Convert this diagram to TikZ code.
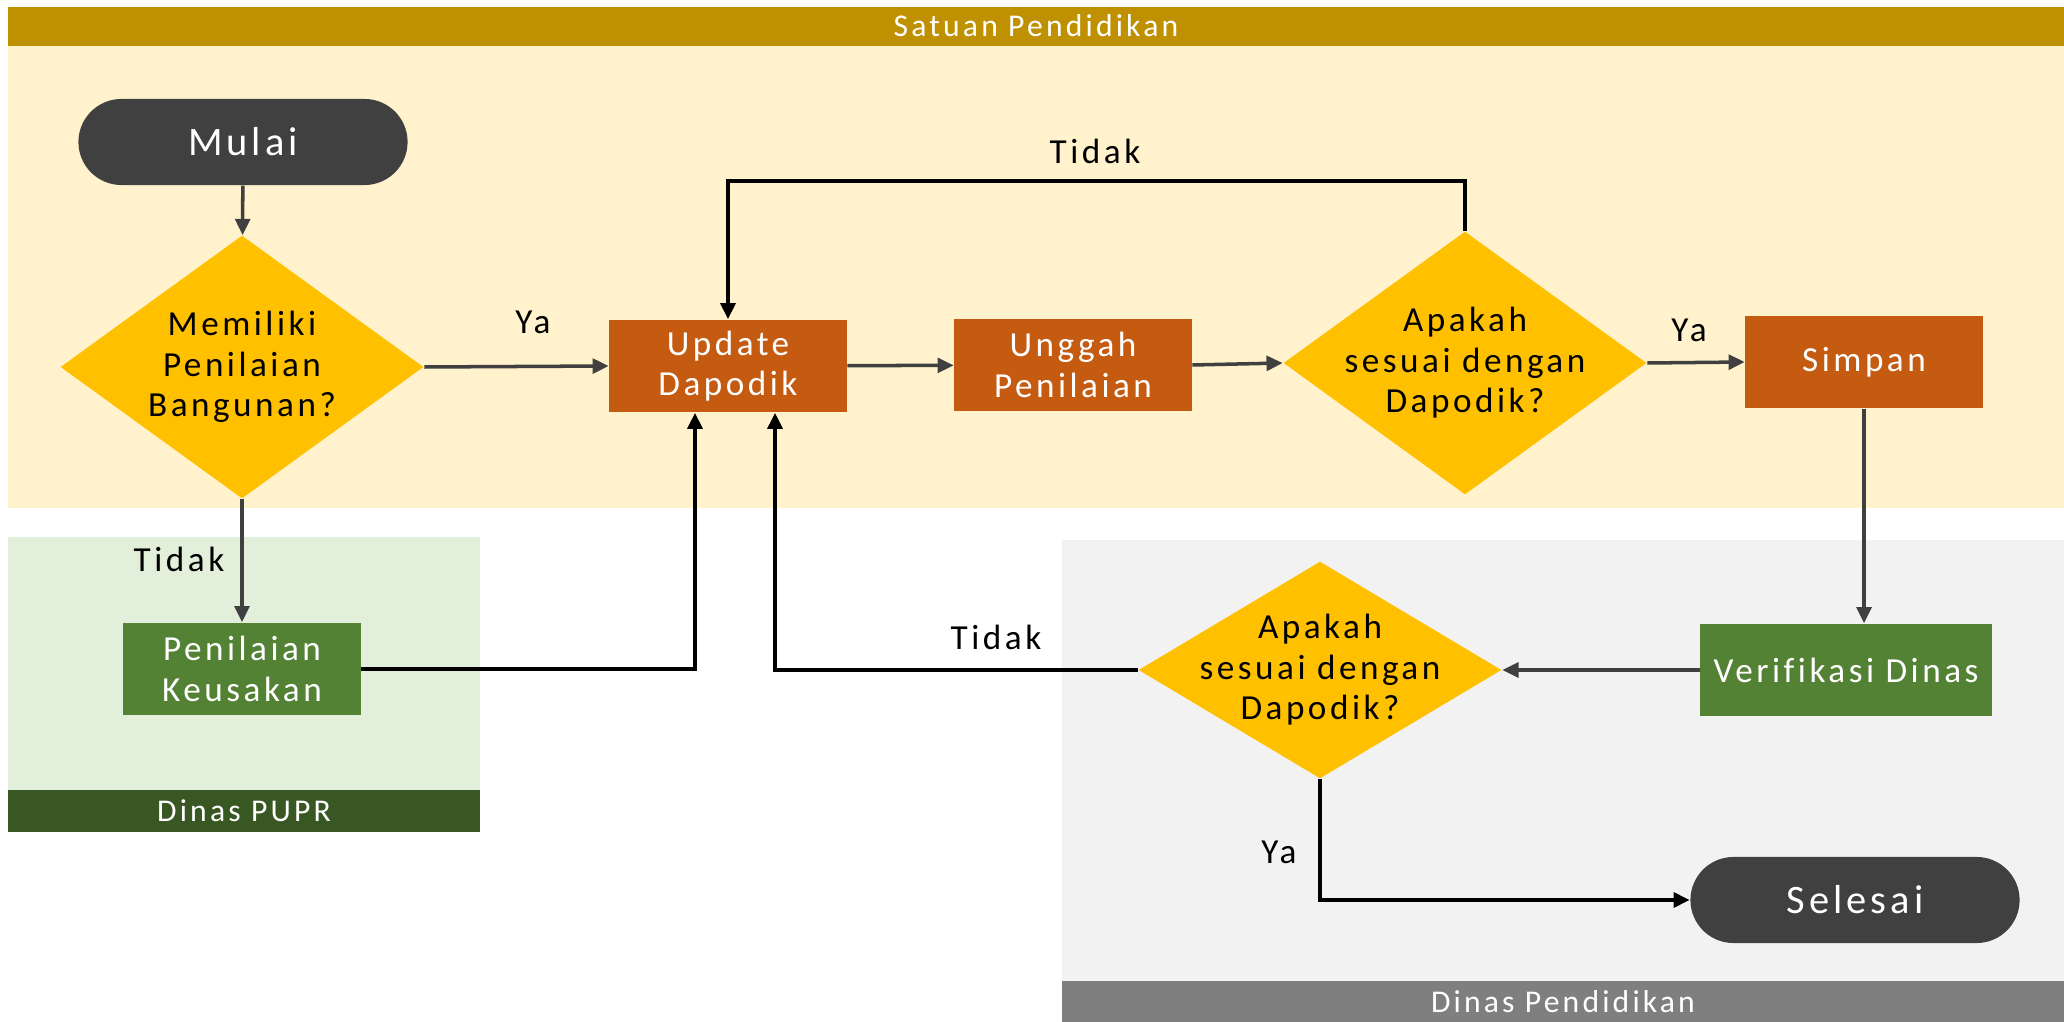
\documentclass[tikz,border=0pt]{standalone}
\usepackage{fontspec}
\setmainfont{Carlito}[LetterSpace=10,Ligatures=NoCommon]
\usetikzlibrary{shapes.geometric,arrows.meta}

\definecolor{hdrgold}{HTML}{BF9000}
\definecolor{lanecream}{HTML}{FFF2CC}
\definecolor{lanegreen}{HTML}{E2EFDA}
\definecolor{hdrgreen}{HTML}{385723}
\definecolor{lanegrey}{HTML}{F2F2F2}
\definecolor{hdrgrey}{HTML}{7F7F7F}
\definecolor{termgrey}{HTML}{404040}
\definecolor{decgold}{HTML}{FFC000}
\definecolor{procorange}{HTML}{C55A11}
\definecolor{procgreen}{HTML}{548235}

\begin{document}
\begin{tikzpicture}[
	x=0.01cm,y=-0.01cm,
	every node/.style={font=\fontsize{10}{11.5}\selectfont},
	term/.style={rectangle,rounded corners=0.43cm,fill=termgrey,text=white,minimum width=3.29cm,minimum height=0.86cm,font=\fontsize{11.5}{13}\selectfont},
	proc/.style={rectangle,fill=procorange,text=white,minimum width=2.37cm,minimum height=0.92cm,align=center,inner sep=0pt},
	procg/.style={proc,fill=procgreen},
	decision/.style={diamond,fill=decgold,inner sep=0pt,minimum width=3.63cm},
	dectext/.style={align=center,text=black,font=\fontsize{10}{11.5}\selectfont},
	lanetitle/.style={text=white,font=\fontsize{9}{10}\selectfont},
	gline/.style={draw=termgrey,line width=1pt,-{Triangle[length=4.6pt,width=4.2pt]}},
	bline/.style={draw=black,line width=1.2pt,-{Triangle[length=4.6pt,width=4.2pt]}}
]
\useasboundingbox (0,0) rectangle (2064,1022);
%lanes
\fill[hdrgold] (8,7) rectangle (2064,46);
\fill[lanecream] (8,46) rectangle (2064,508);
\fill[lanegreen] (8,537) rectangle (480,790);
\fill[hdrgreen] (8,790) rectangle (480,832);
\fill[lanegrey] (1062,540) rectangle (2064,981);
\fill[hdrgrey] (1062,981) rectangle (2064,1022);
\node[lanetitle] (satuan) at (1036,26) {Satuan Pendidikan};
\node[lanetitle] (pupr) at (244,811) {Dinas PUPR};
\node[lanetitle] (dinas) at (1563,1002) {Dinas Pendidikan};
%nodes
\node[term] (mulai) at (243,142) {Mulai};
\node[decision,minimum height=2.63cm,label={[dectext]center:{Memiliki\\Penilaian\\Bangunan?}}] (d1) at (242,367) {};
\node[proc] (upd) at (728,366) {Update\\Dapodik};
\node[proc] (unggah) at (1073,365) {Unggah\\Penilaian};
\node[decision,minimum height=2.63cm,label={[dectext]center:{Apakah\\sesuai dengan\\Dapodik?}}] (d2) at (1465,363) {};
\node[proc] (simpan) at (1864,362) {Simpan};
\node[procg] (pk) at (242,669) {Penilaian\\Keusakan};
\node[procg,minimum width=2.91cm] (verif) at (1846,670) {Verifikasi Dinas};
\node[decision,minimum height=2.17cm,label={[dectext]center:{Apakah\\sesuai dengan\\Dapodik?}}] (d3) at (1320,670) {};
\node[term] (selesai) at (1855,900) {Selesai};
%labels
\node (ya1) at (533,322) {Ya};
\node (tidak1) at (179,559) {Tidak};
\node (tidak2) at (1095,151) {Tidak};
\node (ya2) at (1689,330) {Ya};
\node (tidak3) at (996,637) {Tidak};
\node (ya3) at (1279,852) {Ya};
%connectors
\draw[gline] (mulai) -- (d1);
\draw[gline] (d1.east) -- (upd.west);
\draw[gline] (d1.south) -- (pk.north);
\draw[bline] (pk.east) -| ([xshift=-0.33cm]upd.south);
\draw[gline] (upd) -- (unggah);
\draw[gline] (unggah.east) -- (d2.west);
\draw[gline] (d2.east) -- (simpan.west);
\draw[bline] (d2.north) -- ++(0,-50) -| (upd.north);
\draw[gline] (simpan.south) -- (simpan.south |- verif.north);
\draw[gline] (verif.west) -- (d3.east);
\draw[bline] (d3.west) -| ([xshift=0.47cm]upd.south);
\draw[bline] (d3.south) |- (selesai.west);
\end{tikzpicture}
\end{document}
